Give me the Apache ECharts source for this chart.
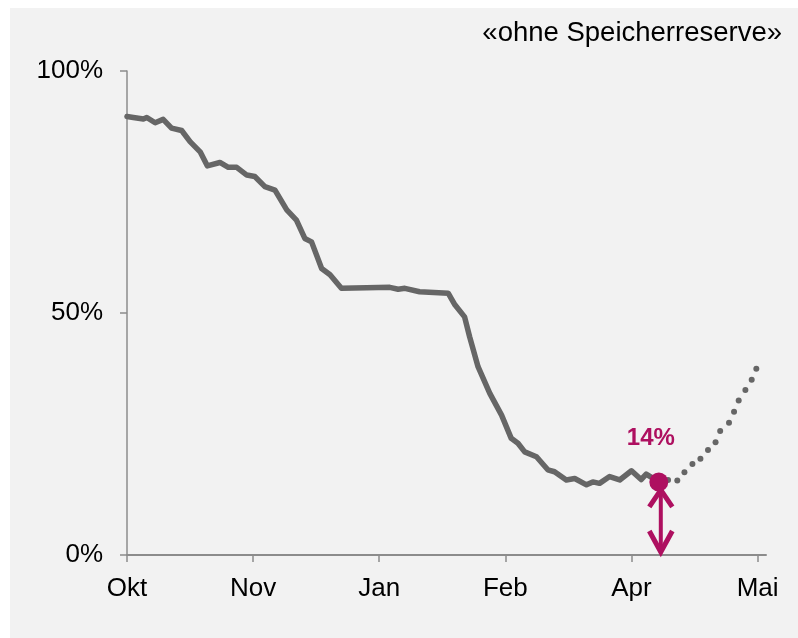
<!DOCTYPE html>
<html>
<head>
<meta charset="utf-8">
<script src="https://cdn.jsdelivr.net/npm/echarts@6/dist/echarts.min.js"></script>
<style>
  html, body { margin: 0; padding: 0; background: #ffffff; }
  #chart { position: absolute; left: 10px; top: 8px; width: 788px; height: 630px; }
</style>
</head>
<body>
<div id="chart"></div>
<script>
// ---- data ----
const titleText = '«ohne Speicherreserve»';
const tickLabels = ['Okt', 'Nov', 'Jan', 'Feb', 'Apr', 'Mai'];
const tickValues = [0, 30, 60, 90, 120, 150];
const yTickValues = [0, 50, 100];

// actual fill level (solid line): x position in axis units, y in %
const actualX = [0, 1.5, 3.9, 4.7, 6.7, 8.6, 10.6, 13.0, 15.0, 17.4, 19.1, 22.1, 24.1, 26.1, 28.5, 30.4, 32.8, 35.2, 38.0, 40.3, 42.3, 43.9, 46.3, 48.3, 51.0, 57.0, 62.5, 64.5, 66.1, 69.6, 76.4, 78.0, 80.3, 81.5, 83.5, 86.3, 89.1, 91.4, 93.0, 94.6, 97.4, 100.1, 101.7, 104.5, 106.5, 109.3, 110.8, 112.4, 114.8, 117.2, 120.0, 122.3, 123.5, 126.5];
const actualY = [90.6, 90.4, 90.1, 90.4, 89.3, 90.0, 88.2, 87.7, 85.4, 83.3, 80.4, 81.1, 80.1, 80.1, 78.5, 78.2, 76.1, 75.4, 71.3, 69.2, 65.4, 64.7, 59.2, 57.9, 55.1, 55.2, 55.3, 54.9, 55.1, 54.4, 54.1, 51.7, 49.2, 45.1, 38.9, 33.4, 28.9, 24.1, 23.1, 21.3, 20.3, 17.6, 17.2, 15.5, 15.8, 14.5, 15.1, 14.8, 16.2, 15.5, 17.4, 15.6, 16.7, 15.1];

// projection (dotted): one dot per projected sample
const projX = [128.7, 130.9, 132.6, 134.5, 136.4, 138.2, 140.0, 141.1, 143.2, 144.4, 145.5, 147.1, 148.6, 149.7];
const projY = [15.5, 15.4, 17.1, 18.8, 19.9, 21.7, 23.3, 25.6, 27.3, 29.6, 31.9, 34.1, 36.2, 38.5];

// highlighted minimum
const markerX = [126.5];
const markerY = [15.1];
const markerLabel = ['14%'];

// ---- build ----
const zip = (a, b) => a.map((v, i) => [v, b[i]]);
const MAG = '#AE1060';
const GRAY = '#666666';
const AXIS = '#8c8c8c';
const FONT = 'Liberation Sans, Arial, sans-serif';

const chart = echarts.init(document.getElementById('chart'), null, { renderer: 'canvas' });

chart.setOption({
  backgroundColor: '#f2f2f2',
  animation: false,
  title: {
    text: titleText,
    right: 11,
    top: 6,
    textStyle: { fontFamily: FONT, fontSize: 27.5, fontWeight: 'normal', color: '#000' }
  },
  grid: { left: 117, right: 32, top: 63, bottom: 83, containLabel: false },
  xAxis: {
    type: 'value',
    min: 0,
    max: 152,
    interval: 30,
    splitLine: { show: false },
    axisLine: { show: true, onZero: false, lineStyle: { color: AXIS, width: 2 } },
    axisTick: { show: true, length: 7, inside: false, customValues: tickValues, lineStyle: { color: AXIS, width: 1.5 } },
    axisLabel: {
      customValues: tickValues,
      margin: 21,
      color: '#000',
      fontFamily: FONT,
      fontSize: 26,
      formatter: v => { const i = tickValues.indexOf(v); return i >= 0 ? tickLabels[i] : ''; }
    }
  },
  yAxis: {
    type: 'value',
    min: 0,
    max: 100,
    interval: 50,
    splitLine: { show: false },
    axisLine: { show: true, lineStyle: { color: AXIS, width: 1.5 } },
    axisTick: { show: true, length: 7, customValues: yTickValues, lineStyle: { color: AXIS, width: 1.5 } },
    axisLabel: {
      customValues: yTickValues,
      margin: 24,
      color: '#000',
      fontFamily: FONT,
      fontSize: 26,
      formatter: v => v + '%'
    }
  },
  series: [
    {
      type: 'line',
      data: zip(actualX, actualY),
      showSymbol: false,
      symbol: 'none',
      lineStyle: { color: GRAY, width: 5.5, cap: 'round', join: 'round' },
      z: 3
    },
    {
      type: 'scatter',
      data: zip(projX, projY),
      symbol: 'circle',
      symbolSize: 6,
      itemStyle: { color: GRAY, opacity: 1 },
      z: 3
    },
    {
      type: 'custom',
      data: zip(markerX, markerY),
      z: 4,
      renderItem: function (params, api) {
        const top = api.coord([api.value(0), api.value(1)]);
        const bot = api.coord([api.value(0), 0]);
        const x = top[0] + 2;
        const tipUp = top[1] + 8;
        const tipDown = bot[1] - 3;
        const style = { stroke: MAG, lineWidth: 5, fill: null, lineJoin: 'miter', lineCap: 'butt' };
        return {
          type: 'group',
          children: [
            { type: 'line', shape: { x1: x, y1: tipUp + 2, x2: x, y2: tipDown - 2 }, style: { stroke: MAG, lineWidth: 4 } },
            { type: 'polyline', shape: { points: [[x - 11.5, tipUp + 17], [x, tipUp], [x + 11.5, tipUp + 17]] }, style: style },
            { type: 'polyline', shape: { points: [[x - 11.5, tipDown - 21], [x, tipDown], [x + 11.5, tipDown - 21]] }, style: style }
          ]
        };
      }
    },
    {
      type: 'scatter',
      data: zip(markerX, markerY),
      symbol: 'circle',
      symbolSize: 19,
      itemStyle: { color: MAG, opacity: 1 },
      z: 5,
      label: {
        show: true,
        position: 'top',
        distance: 22,
        offset: [-8, 0],
        formatter: p => markerLabel[p.dataIndex],
        color: MAG,
        opacity: 1,
        fontFamily: FONT,
        fontSize: 24,
        fontWeight: 'bold'
      }
    }
  ]
});
</script>
</body>
</html>
